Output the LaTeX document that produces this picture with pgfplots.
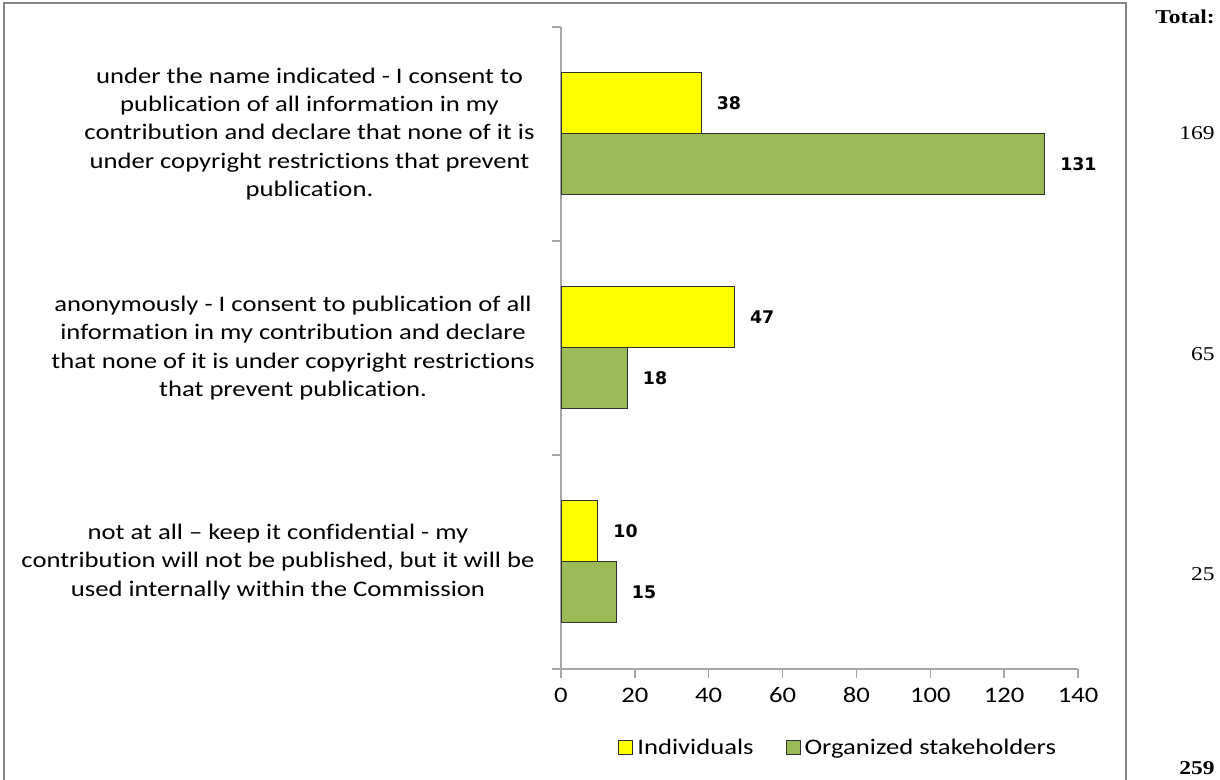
\documentclass[border=0pt]{standalone}
\usepackage{fontspec}
\setmainfont{Carlito}[FakeStretch=1.2, Ligatures={TeX,NoCommon}]
\newfontfamily\valfont{DejaVu Sans}
\newfontfamily\totfont{Liberation Serif}[FakeStretch=1.2]
\usepackage{pgfplots}
\pgfplotsset{compat=1.18}

\definecolor{indiv}{HTML}{FFFF00}
\definecolor{orgs}{HTML}{9BBB59}
\definecolor{axisgray}{HTML}{A6A6A6}
\definecolor{framegray}{HTML}{868686}
\definecolor{barline}{HTML}{303030}

\newcommand{\catfont}{\fontsize{11.1}{14.1}\selectfont}

% small square swatch for the legend
\pgfplotsset{boxlegend/.style={legend image code/.code={%
  \draw[##1, line width=0.5pt] (0pt,-3.5pt) rectangle (7pt,3.5pt);}}}

\begin{document}
\begin{tikzpicture}
\useasboundingbox (0,0) rectangle (610pt,390pt);
% outer frame of the chart area
\draw[framegray, line width=1.3pt] (2pt,-2pt) -- (2pt,388.5pt) -- (563pt,388.5pt) -- (563pt,-2pt);

\begin{axis}[
  at={(280.5pt,55.5pt)}, anchor=south west,
  scale only axis, width=258.5pt, height=321pt,
  xbar, bar width=30.5pt,
  xmin=0, xmax=140, ymin=-0.5, ymax=2.5,
  axis x line*=bottom, axis y line*=left,
  axis line style={draw=axisgray, line width=0.7pt},
  xtick={0,20,...,140},
  ytick={-0.5,0.5,1.5,2.5}, yticklabels={},
  tick align=outside, major tick length=4.5pt,
  tick style={draw=axisgray, line width=0.7pt},
  /pgf/number format/assume math mode=true,
  xticklabel style={font=\catfont, anchor=base, inner sep=0pt, yshift=-12.5pt},
  clip=false,
  nodes near coords,
  every node near coord/.append style={font=\valfont\bfseries\fontsize{8.7}{10}\selectfont,
    anchor=west, inner sep=0pt, xshift=7.5pt, text=black},
  legend style={at={(0.538,-0.123)}, anchor=center, draw=none, fill=none,
    legend columns=2, font=\catfont,
    /tikz/every even column/.append style={column sep=14pt},
    cells={anchor=west, inner xsep=1.5pt}},
]
\addplot[fill=indiv, draw=barline, line width=0.5pt, bar shift=15.25pt, boxlegend]
  coordinates {(10,0) (47,1) (38,2)};
\addlegendentry{Individuals}
\addplot[fill=orgs, draw=barline, line width=0.5pt, bar shift=-15.25pt, boxlegend]
  coordinates {(15,0) (18,1) (131,2)};
\addlegendentry{Organized stakeholders}

% category descriptions
\node[anchor=east, align=center, inner sep=0pt, font=\catfont, xshift=-13pt] at (axis cs:0,2)
  {under the name indicated - I consent to\\
   publication of all information in my\\
   contribution and declare that none of it is\\
   under copyright restrictions that prevent\\
   publication.};
\node[anchor=east, align=center, inner sep=0pt, font=\catfont, xshift=-13pt] at (axis cs:0,1)
  {anonymously - I consent to publication of all\\
   information in my contribution and declare\\
   that none of it is under copyright restrictions\\
   that prevent publication.};
\node[anchor=east, align=center, inner sep=0pt, font=\catfont, xshift=-13pt] at (axis cs:0,0)
  {not at all – keep it confidential - my\\
   contribution will not be published, but it will be\\
   used internally within the Commission};
\end{axis}

% totals column
\begin{scope}[every node/.style={anchor=base east, inner sep=0pt, font=\totfont\fontsize{9.8}{11}\selectfont}]
\node[font=\totfont\bfseries\fontsize{9.8}{11}\selectfont] at (607.5pt,378pt) {Total:};
\node at (607.5pt,320.25pt) {169};
\node at (607.5pt,209.75pt) {65};
\node at (607.5pt,99.75pt) {25};
\node[font=\totfont\bfseries\fontsize{9.8}{11}\selectfont] at (607.5pt,2.5pt) {259};
\end{scope}
\end{tikzpicture}
\end{document}
